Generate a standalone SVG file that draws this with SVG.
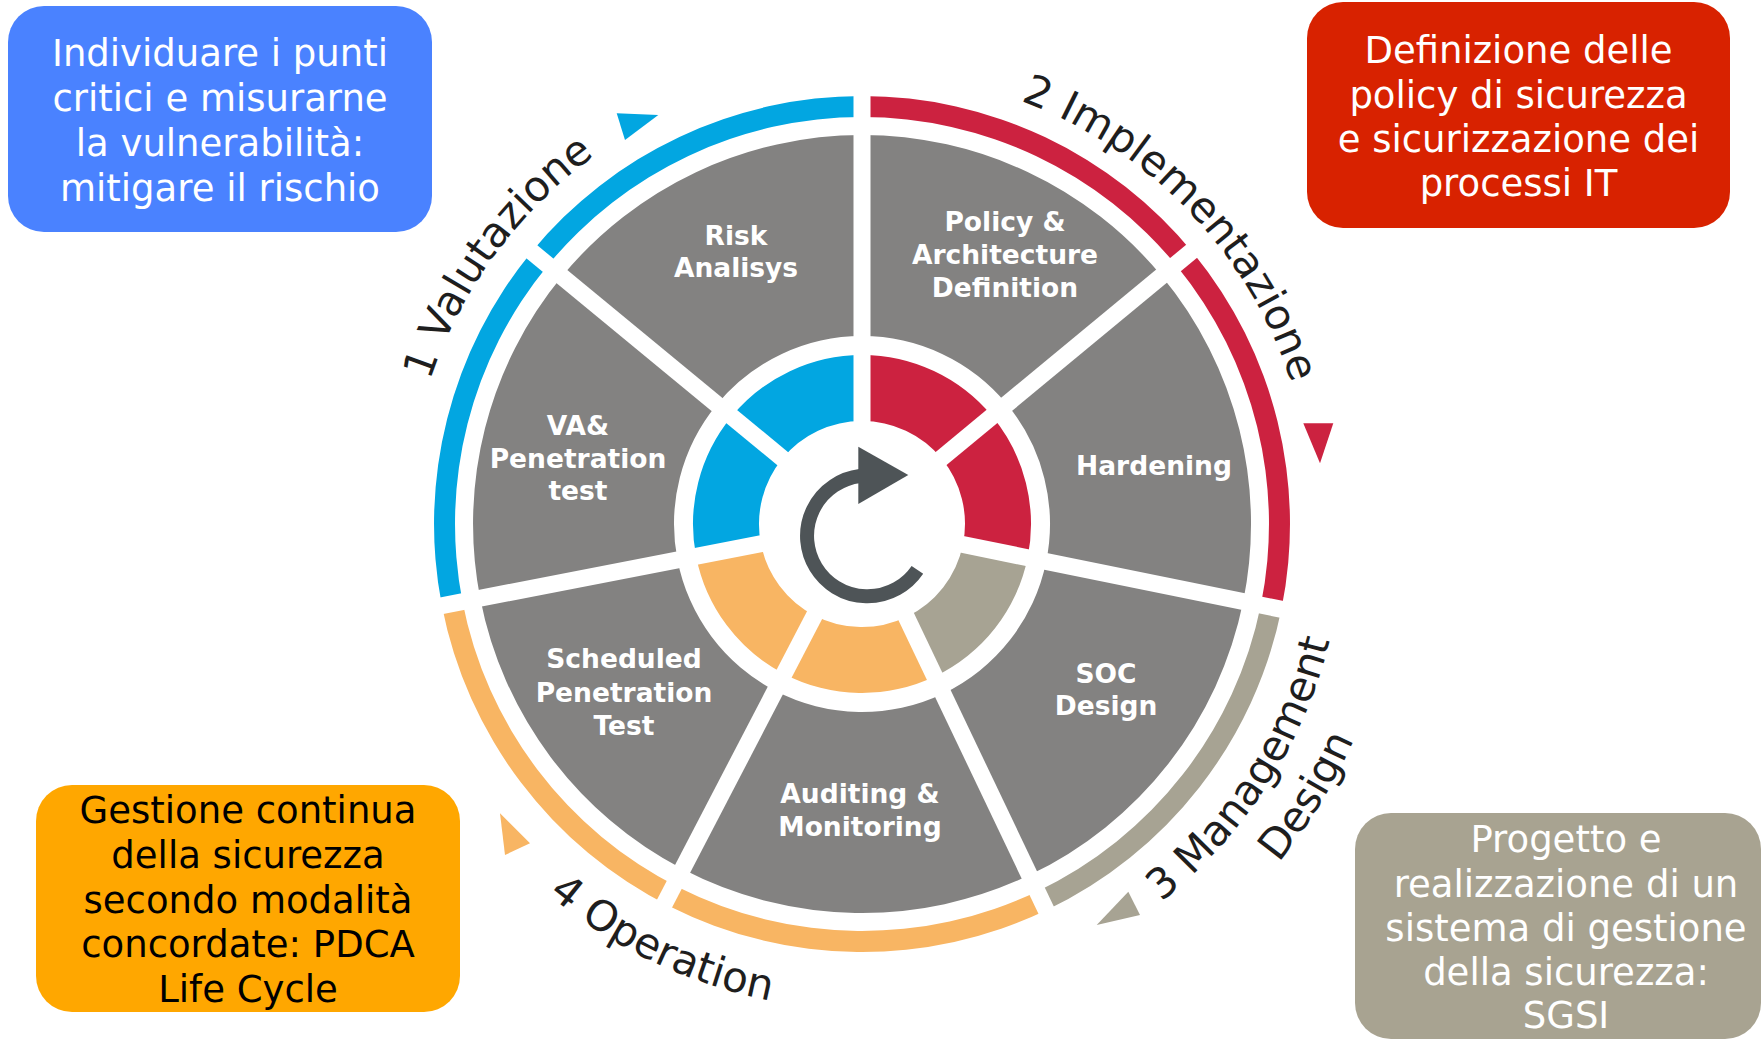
<svg xmlns="http://www.w3.org/2000/svg" xmlns:xlink="http://www.w3.org/1999/xlink" width="1764" height="1040" viewBox="0 0 1764 1040">
<style>
.seg{fill:#838281}
.blue{fill:#02a6e1}
.red{fill:#cc2240}
.beige{fill:#a7a393}
.orange{fill:#f8b563}
.lbl{font-family:"DejaVu Sans",Verdana,sans-serif;font-weight:bold;font-size:26.5px;fill:#ffffff;text-anchor:middle}
.phase{font-family:"DejaVu Sans",Verdana,sans-serif;font-size:42px;fill:#1e1e1e}
.boxt{font-family:"DejaVu Sans",Verdana,sans-serif;font-size:37px;text-anchor:middle}
.gap{stroke:#ffffff;stroke-width:17;fill:none}
</style>
<defs>
<path id="pVal" d="M533.6,838.9 A455,455 0 0 1 1062.9,115.7"/>
<path id="pImp" d="M610.5,148.4 A452,452 0 0 1 1226.8,790.9"/>
<path id="pOpe" d="M394.8,393.6 A485,485 0 0 0 1256.4,806.3"/>
<path id="pMan" d="M675.2,968.4 A482,482 0 0 0 1189.5,170.4"/>
<path id="pDes" d="M666.1,1024 A537,537 0 0 0 1217.1,121.2"/>
</defs>
<rect width="1764" height="1040" fill="#ffffff"/>

<g id="phase-valutazione">
<path class="blue" d="M441.9,605.7 A428,428 0 0 1 862,96 L862,117 A407,407 0 0 0 462.5,601.7 Z"/>
<polygon class="blue" points="616.7,113.3 658.3,115 625,140"/>
<text class="phase"><textPath href="#pVal" xlink:href="#pVal" startOffset="50%" text-anchor="middle">1 Valutazione</textPath></text>
</g>
<g id="phase-implementazione">
<path class="red" d="M862,96 A428,428 0 0 1 1281.4,609.3 L1260.8,605.2 A407,407 0 0 0 862,117 Z"/>
<polygon class="red" points="1303.3,423.3 1333.3,423.3 1320,463.3"/>
<text class="phase"><textPath href="#pImp" xlink:href="#pImp" startOffset="50%" text-anchor="middle">2 Implementazione</textPath></text>
</g>
<g id="phase-management">
<path class="beige" d="M1281.4,609.3 A428,428 0 0 1 1046.3,910.3 L1037.2,891.4 A407,407 0 0 0 1260.8,605.2 Z"/>
<polygon class="beige" points="1128.3,891.7 1140,915 1096.7,925"/>
<text class="phase"><textPath href="#pMan" xlink:href="#pMan" startOffset="50%" text-anchor="middle">3 Management</textPath></text>
<text class="phase"><textPath href="#pDes" xlink:href="#pDes" startOffset="50%" text-anchor="middle">Design</textPath></text>
</g>
<g id="phase-operation">
<path class="orange" d="M1046.3,910.3 A428,428 0 0 1 441.9,605.7 L462.5,601.7 A407,407 0 0 0 1037.2,891.4 Z"/>
<polygon class="orange" points="500,813.3 530,843.3 505,855"/>
<text class="phase"><textPath href="#pOpe" xlink:href="#pOpe" startOffset="50%" text-anchor="middle">4 Operation</textPath></text>
</g>

<g id="seg-policy">
<path class="seg" d="M862,135 A389,389 0 0 1 1161.7,276 L1006.9,404.2 A188,188 0 0 0 862,336 Z"/>
<path class="red" d="M862,355 A169,169 0 0 1 992.2,416.3 L941.4,458.3 A103,103 0 0 0 862,421 Z"/>
<text class="lbl" x="1005" y="231">Policy &amp;</text>
<text class="lbl" x="1005" y="264">Architecture</text>
<text class="lbl" x="1005" y="297">Definition</text>
</g>
<g id="seg-hardening">
<path class="seg" d="M1161.7,276 A389,389 0 0 1 1243.2,601.6 L1046.2,561.5 A188,188 0 0 0 1006.9,404.2 Z"/>
<path class="red" d="M992.2,416.3 A169,169 0 0 1 1027.6,557.7 L962.9,544.5 A103,103 0 0 0 941.4,458.3 Z"/>
<text class="lbl" x="1154" y="475">Hardening</text>
</g>
<g id="seg-soc">
<path class="seg" d="M1243.2,601.6 A389,389 0 0 1 1029.5,875.1 L942.9,693.7 A188,188 0 0 0 1046.2,561.5 Z"/>
<path class="beige" d="M1027.6,557.7 A169,169 0 0 1 934.8,676.5 L906.3,617 A103,103 0 0 0 962.9,544.5 Z"/>
<text class="lbl" x="1106" y="683">SOC</text>
<text class="lbl" x="1106" y="715">Design</text>
</g>
<g id="seg-auditing">
<path class="seg" d="M1029.5,875.1 A389,389 0 0 1 682.4,869 L775.2,690.8 A188,188 0 0 0 942.9,693.7 Z"/>
<path class="orange" d="M934.8,676.5 A169,169 0 0 1 784,673.9 L814.4,615.4 A103,103 0 0 0 906.3,617 Z"/>
<text class="lbl" x="860" y="803">Auditing &amp;</text>
<text class="lbl" x="860" y="836">Monitoring</text>
</g>
<g id="seg-scheduled">
<path class="seg" d="M682.4,869 A389,389 0 0 1 480.2,598.2 L677.5,559.9 A188,188 0 0 0 775.2,690.8 Z"/>
<path class="orange" d="M784,673.9 A169,169 0 0 1 696.1,556.2 L760.9,543.7 A103,103 0 0 0 814.4,615.4 Z"/>
<text class="lbl" x="624" y="668">Scheduled</text>
<text class="lbl" x="624" y="702">Penetration</text>
<text class="lbl" x="624" y="735">Test</text>
</g>
<g id="seg-va">
<path class="seg" d="M480.2,598.2 A389,389 0 0 1 561.8,276.6 L716.9,404.4 A188,188 0 0 0 677.5,559.9 Z"/>
<path class="blue" d="M696.1,556.2 A169,169 0 0 1 731.6,416.5 L782.5,458.5 A103,103 0 0 0 760.9,543.7 Z"/>
<text class="lbl" x="578" y="435">VA&amp;</text>
<text class="lbl" x="578" y="468">Penetration</text>
<text class="lbl" x="578" y="500">test</text>
</g>
<g id="seg-risk">
<path class="seg" d="M561.8,276.6 A389,389 0 0 1 862,135 L862,336 A188,188 0 0 0 716.9,404.4 Z"/>
<path class="blue" d="M731.6,416.5 A169,169 0 0 1 862,355 L862,421 A103,103 0 0 0 782.5,458.5 Z"/>
<text class="lbl" x="736" y="245">Risk</text>
<text class="lbl" x="736" y="277">Analisys</text>
</g>

<g id="gaps" class="gap">
<line x1="862" y1="426" x2="862" y2="84"/>
<line x1="937.5" y1="461.5" x2="1201" y2="243.5"/>
<line x1="958" y1="543.5" x2="1293.2" y2="611.7"/>
<line x1="904.2" y1="612.5" x2="1051.4" y2="921.1"/>
<line x1="816.8" y1="610.9" x2="658.9" y2="914.3"/>
<line x1="765.8" y1="542.7" x2="430.1" y2="608"/>
<line x1="786.4" y1="461.7" x2="522.5" y2="244.1"/>
</g>

<g id="cycle-arrow">
<path d="M917.4,569.9 A60.4,60.4 0 1 1 860,476" fill="none" stroke="#4e5457" stroke-width="14"/>
<polygon points="858.3,446.7 908.3,475 858.3,504" fill="#4e5457"/>
</g>

<g id="box-valutazione">
<rect x="8" y="6" width="424" height="226" rx="36" fill="#4a82ff"/>
<text class="boxt" fill="#ffffff"><tspan x="220" y="66">Individuare i punti</tspan><tspan x="220" y="111">critici e misurarne</tspan><tspan x="220" y="156">la vulnerabilità:</tspan><tspan x="220" y="201">mitigare il rischio</tspan></text>
</g>
<g id="box-implementazione">
<rect x="1307" y="2" width="423" height="226" rx="36" fill="#d82200"/>
<text class="boxt" fill="#ffffff"><tspan x="1518.5" y="63">Definizione delle</tspan><tspan x="1518.5" y="108">policy di sicurezza</tspan><tspan x="1518.5" y="152">e sicurizzazione dei</tspan><tspan x="1518.5" y="196">processi IT</tspan></text>
</g>
<g id="box-operation">
<rect x="36" y="785" width="424" height="227" rx="36" fill="#ffa700"/>
<text class="boxt" fill="#000000"><tspan x="248" y="823">Gestione continua</tspan><tspan x="248" y="868">della sicurezza</tspan><tspan x="248" y="913">secondo modalità</tspan><tspan x="248" y="957">concordate: PDCA</tspan><tspan x="248" y="1002">Life Cycle</tspan></text>
</g>
<g id="box-management">
<rect x="1355" y="813" width="406" height="226" rx="36" fill="#a8a391"/>
<text class="boxt" fill="#ffffff"><tspan x="1566" y="852">Progetto e</tspan><tspan x="1566" y="897">realizzazione di un</tspan><tspan x="1566" y="941">sistema di gestione</tspan><tspan x="1566" y="985">della sicurezza:</tspan><tspan x="1566" y="1028">SGSI</tspan></text>
</g>
</svg>
